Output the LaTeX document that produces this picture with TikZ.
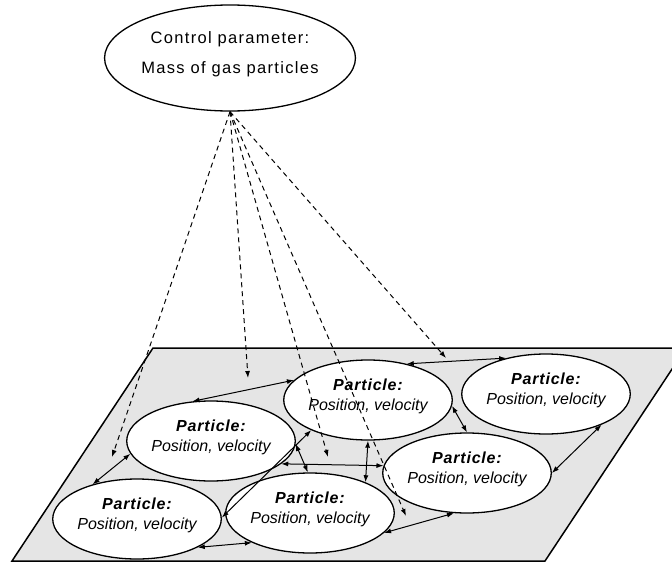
\documentclass[tikz,border=0pt]{standalone}
\usepackage{fontspec}
\usepackage{tikz}
\usetikzlibrary{shapes,arrows.meta,calc}
\newfontfamily\partfont{Liberation Sans}[BoldItalicFeatures={LetterSpace=5}]
\newfontfamily\ctrlfont{Liberation Sans}[LetterSpace=8]
\definecolor{planegray}{gray}{0.9}
\newcommand{\partxt}{\textbf{Particle:}\\Position, velocity\rule[-11pt]{0pt}{0pt}}
\tikzset{
  ctrl_n/.style = {ellipse, draw=black, line width=1.3pt, fill=white, inner sep=0pt,
                   minimum width=197pt, minimum height=106pt, align=center,
                   font=\ctrlfont\fontsize{16.5}{30}\selectfont},
  part_n/.style = {ellipse, draw=black, line width=1.3pt, fill=white, inner sep=0pt,
                   minimum width=160pt, minimum height=80pt, align=center,
                   font=\partfont\itshape\fontsize{16}{20}\selectfont},
  link_e/.style = {{Latex[length=7pt,width=5pt]}-{Latex[length=7pt,width=5pt]}, line width=1pt},
  infl_e/.style = {-{Latex[length=7pt,width=5pt]}, line width=1pt, dash pattern=on 5pt off 4pt}
}
\begin{document}
\begin{tikzpicture}[x=1pt,y=-1pt]
  \useasboundingbox (0,0) rectangle (672,562);
  \clip (0,0) rectangle (672,562);
  % the plane
  \draw[fill=planegray, line width=1.5pt] (153,348) -- (686,348) -- (545,561) -- (12,561) -- cycle;
  % control parameter
  \node [ctrl_n] (ctrl) at (230,58) {Control parameter:\\Mass of gas particles\rule[-11pt]{0pt}{0pt}};
  % particles
  \node [part_n] (p1) at (211,441) {\partxt};
  \node [part_n] (p2) at (137,519) {\partxt};
  \node [part_n] (p3) at (368,400) {\partxt};
  \node [part_n] (p4) at (546,394) {\partxt};
  \node [part_n] (p5) at (467,473) {\partxt};
  \node [part_n] (p6) at (310,513) {\partxt};
  % interactions
  \draw [link_e] (p1.115) -- (p3.165);
  \draw [link_e] (p3.43) -- (p4.138);
  \draw [link_e] (p3.-4) -- (p5.90);
  \draw [link_e] (p4.-29) -- (p5.0);
  \draw [link_e] (p5.-108) -- (p6.-15);
  \draw [link_e] (p6.207) -- (p2.-25);
  \draw [link_e] (p1.189) -- (p2.142);
  \draw [link_e] (p2.1) -- (p3.208);
  \draw [link_e] (p1.-2) -- (p6.93);
  \draw [link_e] (p1.-18) -- (p5.175);
  \draw [link_e] (p3.-90) -- (p6.29);
  % influence of the control parameter
  \coordinate (d1) at (112,457);
  \coordinate (d2) at (248,378);
  \coordinate (d3) at (328,457);
  \coordinate (d4) at (406,516);
  \coordinate (d5) at (446,358);
  \foreach \d in {d1,d2,d3,d4,d5}
    \draw [infl_e] (ctrl.south) -- (\d);
\end{tikzpicture}
\end{document}
